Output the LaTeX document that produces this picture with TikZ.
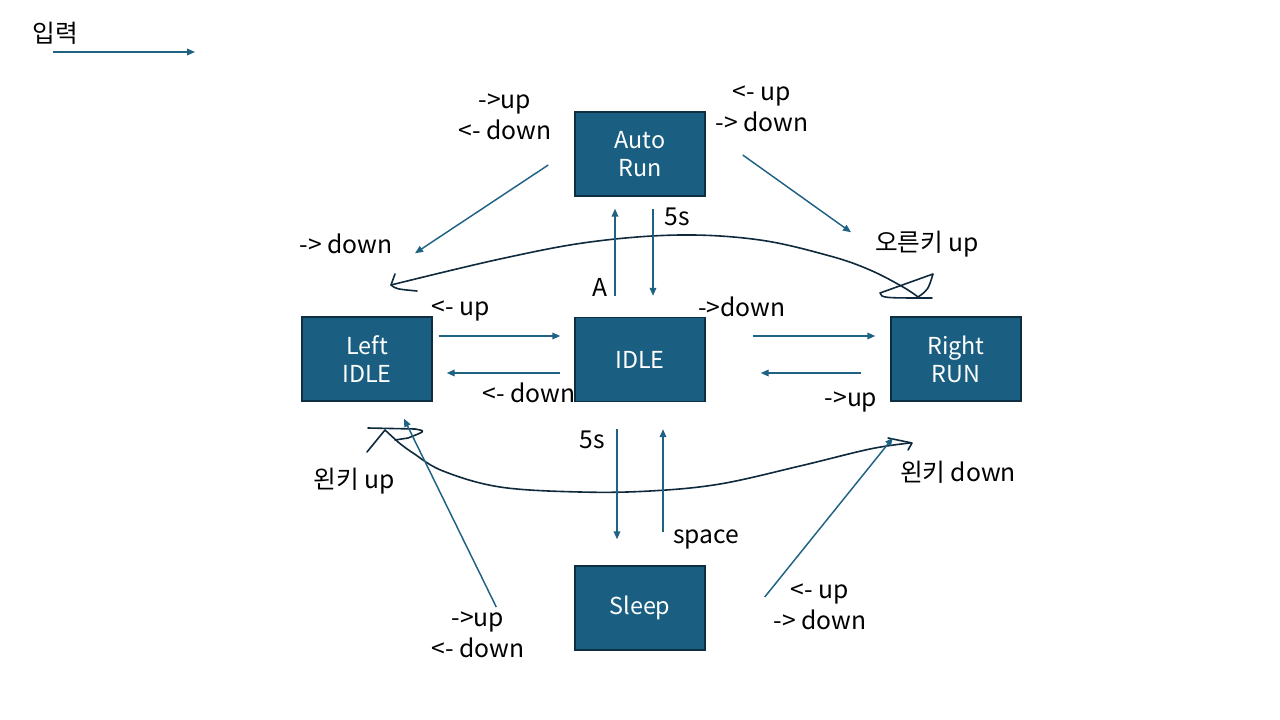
\documentclass[tikz,border=0pt]{standalone}
\usepackage{fontspec}
\setmainfont{Noto Sans CJK KR}
\usepackage{tikz}
\usetikzlibrary{arrows.meta,calc}
\definecolor{boxc}{HTML}{1A5F82}
\definecolor{boxline}{HTML}{0E2F41}
\definecolor{arrowc}{HTML}{1F6284}
\definecolor{handc}{HTML}{0E2A3C}

\begin{document}
\begin{tikzpicture}[
    x=0.75pt, y=-0.75pt,
    state/.style={rectangle, draw=boxline, line width=1.1pt, fill=boxc, minimum width=97.5pt, minimum height=63pt, text=white, font=\fontsize{17.5}{21}\selectfont, align=center, inner sep=0pt},
    lbl/.style={font=\fontsize{18.5}{23.5}\selectfont, align=center, inner sep=0pt},
    arrow/.style={-{Triangle[length=6pt,width=5pt]}, line width=1.1pt, draw=arrowc},
    hand/.style={line width=1.2pt, draw=handc, line cap=round, line join=round}
]
\useasboundingbox (0,0) rectangle (1280,720);

% Legend
\node[lbl] (inlbl) at (55,33) {입력};
\coordinate (legS) at (53,52);
\coordinate (legE) at (195,52);
\draw[arrow] (legS) -- (legE);

% States
\node[state] (auto) at (640,154) {Auto\\Run};
\node[state] (left) at (367,359) {Left\\IDLE};
\node[state] (idle) at (640,359.5) {IDLE};
\node[state] (right) at (956,359) {Right\\RUN};
\node[state] (sleep) at (640,608) {Sleep};

% Hand-drawn strokes
\draw[hand] (395,274) -- (391,285) .. controls (396,289) .. (417,291);
\draw[hand] plot[smooth, tension=0.6] coordinates {(391,285) (500,259) (590,242) (680,235) (760,240) (830,256) (870,270) (903,287) (918,297)};
\draw[hand] (918,297) .. controls (928,290) .. (933,274) -- (880,293) .. controls (882,298) .. (932,298);
\draw[hand] (367,452) -- (385,430) -- (398,442);
\draw[hand] (368,428) -- (415,429) .. controls (426,431) .. (408,438) -- (395,440);
\draw[hand] plot[smooth, tension=0.6] coordinates {(398,442) (413,453) (443,471) (500,487) (580,492) (650,491) (720,484) (800,466) (870,449) (910,443)};
\draw[hand] (888,438) -- (912,443) -- (908,450);

% Arrows around IDLE
\draw[arrow] ($(idle.north)+(-25,-21)$) -- ($(auto.south)+(-25,12)$);
\draw[arrow] ($(auto.south)+(13,12)$) -- ($(idle.north)+(13,-21)$);
\draw[arrow] ($(auto.west)+(-26,11)$) -- ($(left.north)+(48,-63)$);
\draw[arrow] ($(auto.east)+(37,1)$) -- ($(right.north)+(-105,-84)$);
\draw[arrow] ($(left.east)+(6,-23)$) -- ($(idle.west)+(-14,-23.5)$);
\draw[arrow] ($(idle.west)+(-14,13.5)$) -- ($(left.east)+(14,14)$);
\draw[arrow] ($(idle.east)+(47,-23.5)$) -- ($(right.west)+(-15,-23)$);
\draw[arrow] ($(right.west)+(-29,14)$) -- ($(idle.east)+(55,13.5)$);
\draw[arrow] ($(idle.south)+(-23,27)$) -- ($(sleep.north)+(-23,-26)$);
\draw[arrow] ($(sleep.north)+(23,-33)$) -- ($(idle.south)+(23,27)$);
\draw[arrow] ($(sleep.west)+(-78,-1)$) -- ($(left.south)+(37,17)$);
\draw[arrow] ($(sleep.east)+(59,-11)$) -- ($(right.south)+(-63,36)$);

% Labels
\node[lbl] (lautoL) at (505,117) {->up\\<- down};
\node[lbl] (lautoR) at (762,109) {<- up\\-> down};
\node[lbl] (lfive) at (677,217) {5s};
\node[lbl] (lleftdn) at (346,244) {-> down};
\node[lbl] (lrkey) at (927,244) {오른키 up};
\node[lbl] (la) at (600,287) {A};
\node[lbl] (lleftup) at (461,311) {<- up};
\node[lbl] (lrdown) at (742,307) {->down};
\node[lbl] (lldown) at (529,393) {<- down};
\node[lbl] (lrup) at (851,402) {->up};
\node[lbl] (lfivedn) at (592,440) {5s};
\node[lbl] (llkeyup) at (354,481) {왼키 up};
\node[lbl] (llkeydn) at (958,472) {왼키 down};
\node[lbl] (lspace) at (706,539) {space};
\node[lbl] (lsleepL) at (478,635) {->up\\<- down};
\node[lbl] (lsleepR) at (820,607) {<- up\\-> down};

\end{tikzpicture}
\end{document}
